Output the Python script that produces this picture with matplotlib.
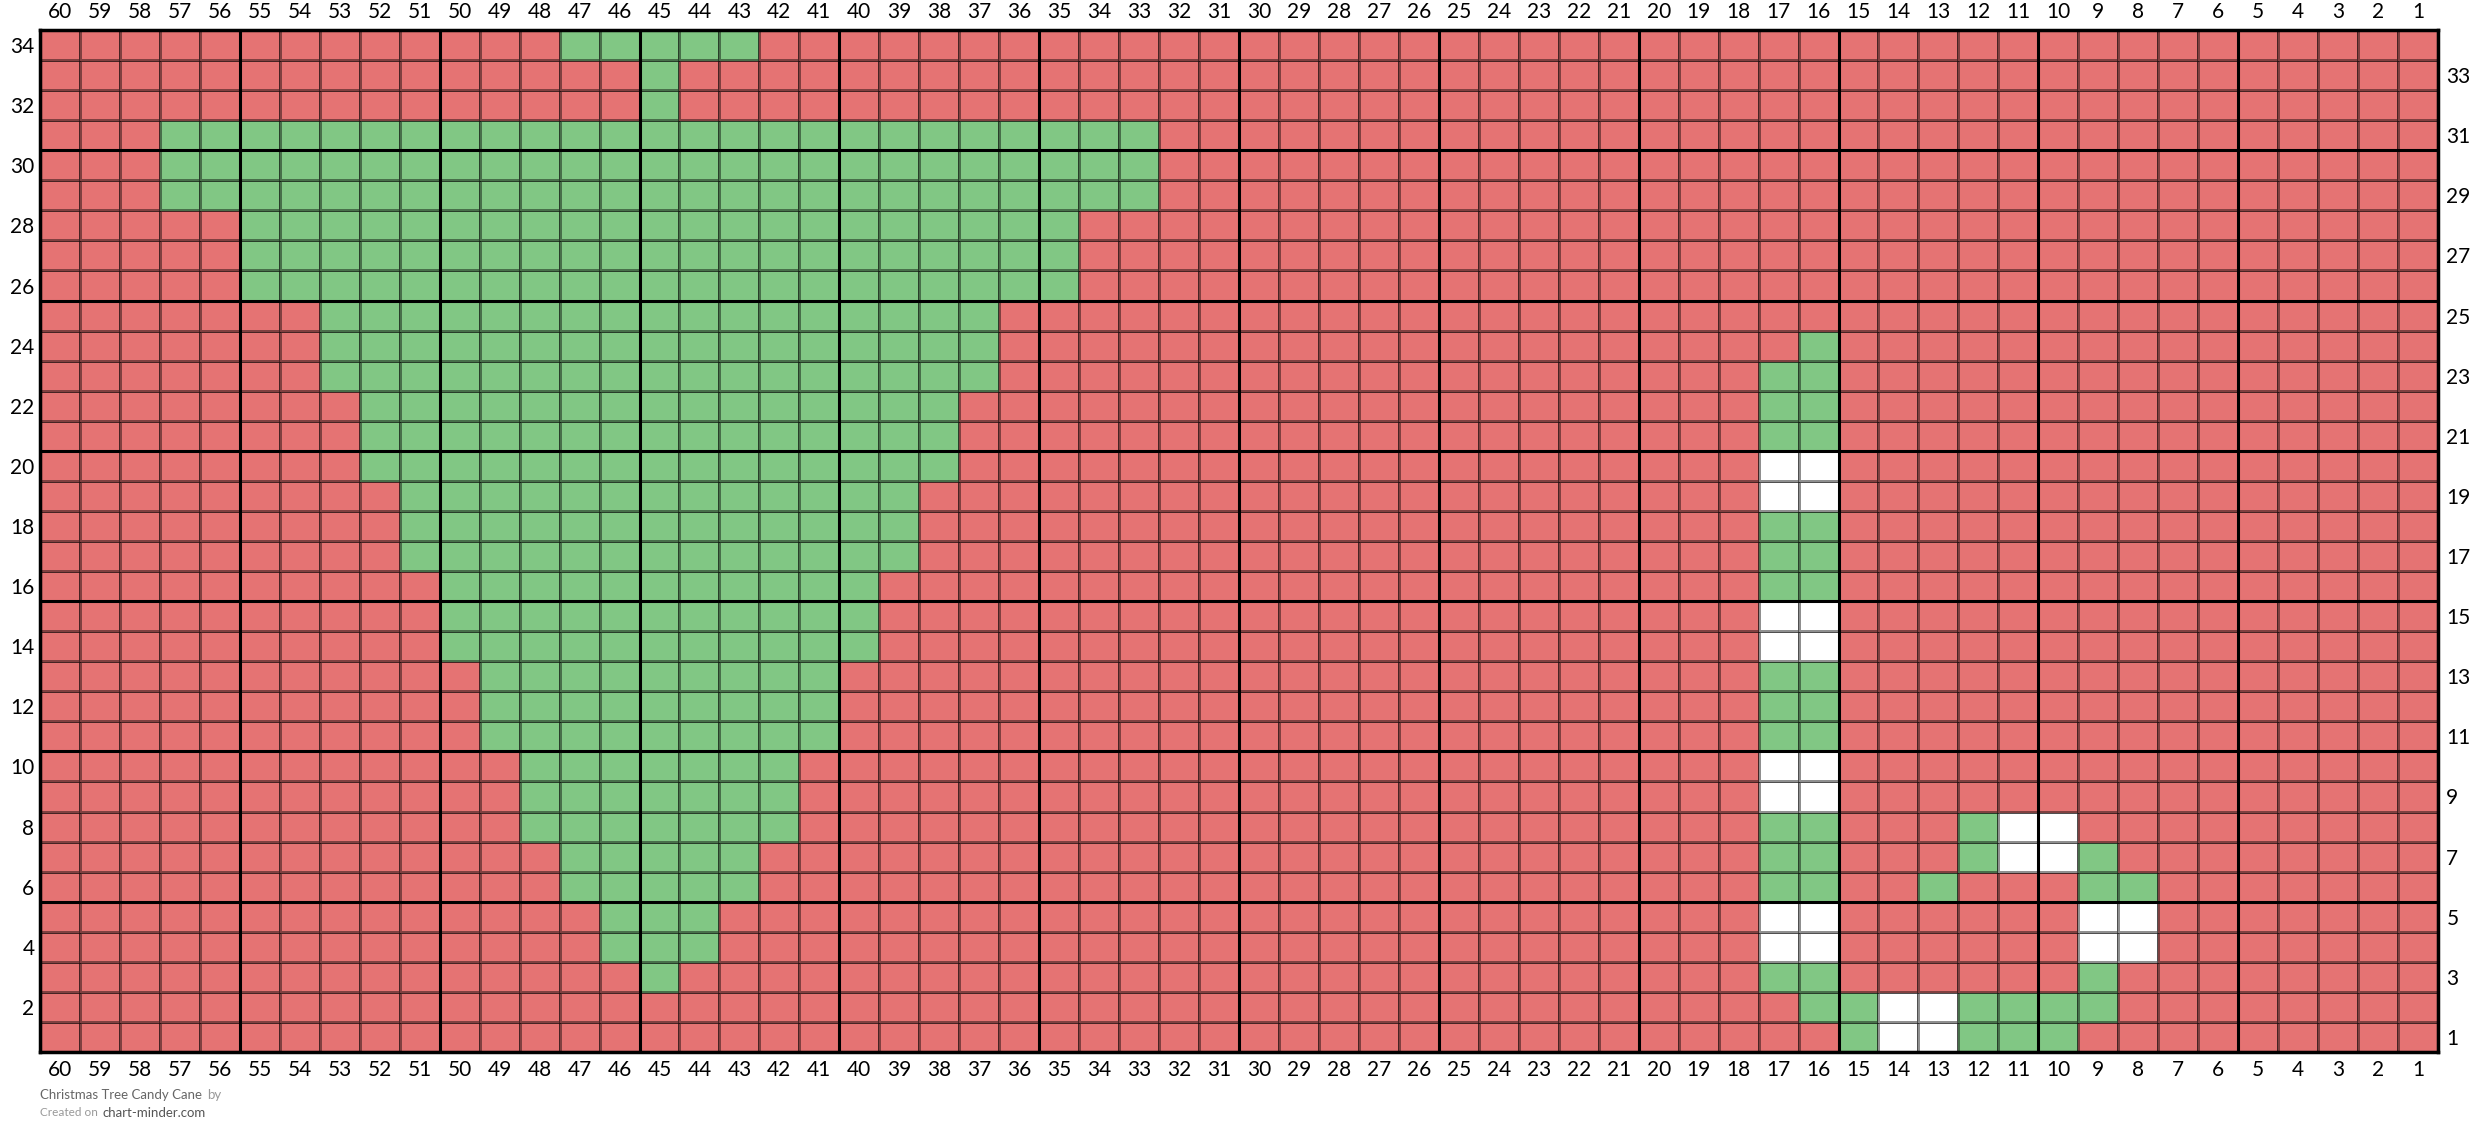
import matplotlib
matplotlib.use("Agg")
import matplotlib.pyplot as plt
from matplotlib.colors import ListedColormap
import numpy as np

plt.rcParams["font.family"] = ["Lato", "DejaVu Sans"]

N_COLS = 60
N_ROWS = 34
COLORS = ["#E57373", "#81C784", "#FFFFFF"]  # background, green, white

# tree: (row, leftmost col, rightmost col) of green stitches
TREE_ROWS = [
    (34, 47, 43), (33, 45, 45), (32, 45, 45),
    (31, 57, 33), (30, 57, 33), (29, 57, 33),
    (28, 55, 35), (27, 55, 35), (26, 55, 35),
    (25, 53, 37), (24, 53, 37), (23, 53, 37),
    (22, 52, 38), (21, 52, 38), (20, 52, 38),
    (19, 51, 39), (18, 51, 39), (17, 51, 39),
    (16, 50, 40), (15, 50, 40), (14, 50, 40),
    (13, 49, 41), (12, 49, 41), (11, 49, 41),
    (10, 48, 42), (9, 48, 42), (8, 48, 42),
    (7, 47, 43), (6, 47, 43),
    (5, 46, 44), (4, 46, 44),
    (3, 45, 45),
]

# candy cane stitches: (row, col)
CANE_GREEN = [
    (24, 16), (23, 17), (23, 16), (22, 17), (22, 16), (21, 17), (21, 16),
    (18, 17), (18, 16), (17, 17), (17, 16), (16, 17), (16, 16),
    (13, 17), (13, 16), (12, 17), (12, 16), (11, 17), (11, 16),
    (8, 17), (8, 16), (7, 17), (7, 16), (6, 17), (6, 16),
    (3, 17), (3, 16), (2, 16),
    (8, 12), (7, 12), (7, 9), (6, 13), (6, 9), (6, 8), (3, 9),
    (2, 15), (2, 12), (2, 11), (2, 10), (2, 9),
    (1, 15), (1, 12), (1, 11), (1, 10),
]
CANE_WHITE = [
    (20, 17), (20, 16), (19, 17), (19, 16),
    (15, 17), (15, 16), (14, 17), (14, 16),
    (10, 17), (10, 16), (9, 17), (9, 16),
    (5, 17), (5, 16), (4, 17), (4, 16),
    (8, 11), (8, 10), (7, 11), (7, 10),
    (5, 9), (5, 8), (4, 9), (4, 8),
    (2, 14), (2, 13), (1, 14), (1, 13),
]

TITLE = "Christmas Tree Candy Cane"


def build_grid():
    grid = np.zeros((N_ROWS, N_COLS), dtype=int)

    def put(row, col, v):
        grid[row - 1, N_COLS - col] = v

    for row, c0, c1 in TREE_ROWS:
        for c in range(c1, c0 + 1):
            put(row, c, 1)
    for row, c in CANE_GREEN:
        put(row, c, 1)
    for row, c in CANE_WHITE:
        put(row, c, 2)
    return grid


def text_after(fig, prev, s, **kw):
    # place a text directly after another one on the same line
    fig.canvas.draw()
    bb = prev.get_window_extent().transformed(fig.transFigure.inverted())
    return fig.text(bb.x1 + 0.002, prev.get_position()[1], s, va="center", **kw)


def main():
    grid = build_grid()
    fig = plt.figure(figsize=(24.8, 11.43), dpi=100)
    ax = fig.add_axes([40 / 2480, 1 - 1052 / 1143, 2398 / 2480, 1022 / 1143])

    ax.pcolormesh(np.arange(N_COLS + 1), np.arange(N_ROWS + 1), grid,
                  cmap=ListedColormap(COLORS), vmin=-0.5, vmax=2.5,
                  edgecolors="#00000070", linewidth=0.9)
    ax.set_xlim(0, N_COLS)
    ax.set_ylim(0, N_ROWS)

    # thick lines every 5 stitches
    for c in range(0, N_COLS + 1, 5):
        ax.axvline(c, color="black", lw=2.2)
    for r in range(0, N_ROWS + 1, 5):
        ax.axhline(r, color="black", lw=2.2)
    for s in ax.spines.values():
        s.set_linewidth(2.5)

    ax.set_xticks(np.arange(N_COLS) + 0.5)
    ax.set_xticklabels([str(N_COLS - i) for i in range(N_COLS)], fontsize=15)
    ax.tick_params(axis="x", length=0, pad=6, top=True, labeltop=True)

    ax.set_yticks(np.arange(1, N_ROWS, 2) + 0.5)
    ax.set_yticklabels([str(r) for r in range(2, N_ROWS + 1, 2)], fontsize=15)
    ax.tick_params(axis="y", length=0, pad=4)
    ax2 = ax.twinx()
    ax2.set_ylim(0, N_ROWS)
    ax2.set_yticks(np.arange(0, N_ROWS, 2) + 0.5)
    ax2.set_yticklabels([str(r) for r in range(1, N_ROWS, 2)], fontsize=15)
    ax2.tick_params(axis="y", length=0, pad=6)
    for s in ax2.spines.values():
        s.set_visible(False)

    t1 = fig.text(40 / 2480, 1 - 1095 / 1143, TITLE, fontsize=9.5, color="#666666", va="center")
    text_after(fig, t1, "by", fontsize=9.5, color="#999999")
    t2 = fig.text(40 / 2480, 1 - 1113 / 1143, "Created on", fontsize=8.5, color="#999999", va="center")
    text_after(fig, t2, "chart-minder.com", fontsize=9.5, color="#555555")

    fig.savefig("out.png", dpi=100, facecolor="white")


if __name__ == "__main__":
    main()
